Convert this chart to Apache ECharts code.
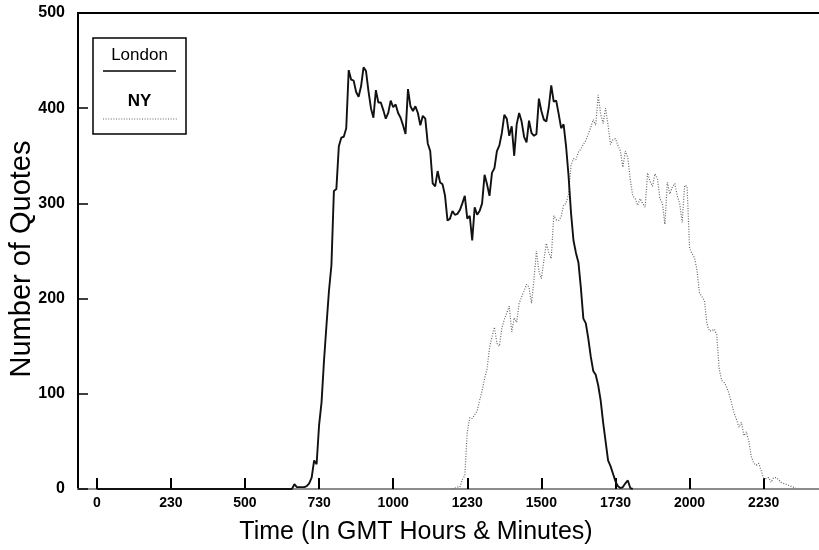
<!DOCTYPE html>
<html>
<head>
<meta charset="utf-8">
<script src="https://cdn.jsdelivr.net/npm/echarts@6/dist/echarts.min.js"></script>
<style>
  html, body { margin: 0; padding: 0; background: #fff; }
  #chart { width: 819px; height: 550px; }
</style>
</head>
<body>
<div id="chart"></div>
<script>
// Quote counts per 5-minute interval, time in minutes after midnight GMT.
const STEP_MINUTES = 5;

// London: quiet overnight, then the trading day from 06:25.
const londonOvernight = [[0, 0]];
const londonStartMinute = 385;
const londonQuotes = [
  0, 0, 0, 5, 2, 2, 2, 2, 3, 6, 12, 30, 26, 67, 91, 135, 172, 208, 235, 313,
  315, 360, 369, 370, 379, 440, 430, 429, 417, 412, 423, 443, 439, 418, 400, 390,
  419, 406, 406, 398, 389, 395, 408, 401, 404, 395, 390, 382, 373, 420, 402, 397,
  402, 395, 382, 392, 389, 363, 355, 321, 318, 334, 322, 320, 308, 282, 284, 292,
  288, 289, 293, 300, 308, 284, 287, 261, 296, 288, 292, 300, 330, 320, 308, 332,
  337, 355, 361, 374, 393, 389, 371, 381, 350, 383, 395, 386, 370, 364, 387, 374,
  371, 373, 410, 397, 388, 386, 401, 424, 407, 408, 394, 379, 383, 360, 329, 290,
  261, 248, 238, 211, 179, 174, 158, 139, 124, 120, 109, 93, 70, 50, 30, 24,
  16, 8, 3, 1, 2, 6, 9, 1, 0
];

// New York: from 12:00 until late evening.
const nyStartMinute = 720;
const nyQuotes = [
  0, 1, 2, 2, 10, 14, 60, 75, 74, 78, 82, 93, 103, 116, 126, 148, 160, 170, 153, 150,
  169, 178, 185, 192, 165, 180, 175, 195, 202, 208, 215, 212, 195, 220, 250, 229,
  221, 240, 258, 248, 242, 287, 283, 282, 286, 298, 300, 310, 340, 347, 346, 354,
  357, 362, 366, 373, 380, 388, 382, 414, 394, 384, 400, 382, 362, 367, 368, 361,
  355, 338, 355, 348, 325, 308, 305, 298, 305, 300, 296, 332, 323, 318, 331, 326,
  305, 300, 278, 322, 310, 317, 321, 308, 300, 280, 319, 318, 253, 247, 243, 230,
  206, 202, 198, 174, 166, 166, 168, 162, 126, 114, 112, 107, 100, 90, 80, 73,
  65, 70, 56, 60, 50, 34, 27, 25, 27, 19, 11, 11, 12, 7, 12, 12, 10, 7, 6, 5,
  4, 3, 2, 1
];

// Axis ticks: positions in minutes and their HHMM-style labels.
const xTickMinutes = [0, 150, 300, 450, 600, 750, 900, 1050, 1200, 1350];
const xTickLabels = ['0', '230', '500', '730', '1000', '1230', '1500', '1730', '2000', '2230'];
const yTickValues = [0, 100, 200, 300, 400, 500];

const seriesNames = ['London', 'NY'];
const xTitle = 'Time (In GMT Hours & Minutes)';
const yTitle = 'Number of Quotes';

function toPairs(start, values) {
  return values.map((v, i) => [start + i * STEP_MINUTES, v]);
}

const londonData = londonOvernight.concat(toPairs(londonStartMinute, londonQuotes));
const nyData = toPairs(nyStartMinute, nyQuotes);

const FONT = '"Liberation Sans", Arial, Helvetica, sans-serif';
const X_MIN = -38, X_MAX = 1462;

const chart = echarts.init(document.getElementById('chart'), null, { renderer: 'canvas' });

chart.setOption({
  animation: false,
  backgroundColor: '#fff',
  grid: { left: 78, right: 0, top: 13, bottom: 61, containLabel: false },
  xAxis: [
    {
      type: 'value',
      min: X_MIN,
      max: X_MAX,
      axisLine: { show: true, onZero: false, lineStyle: { color: '#8c8c8c', width: 2 } },
      axisTick: {
        show: true, inside: true, length: 11, customValues: xTickMinutes,
        lineStyle: { color: '#000', width: 2 }
      },
      axisLabel: {
        show: true, customValues: xTickMinutes, margin: 7,
        formatter: v => xTickLabels[xTickMinutes.indexOf(v)] || '',
        color: '#000', fontFamily: FONT, fontSize: 14, fontWeight: 'bold'
      },
      splitLine: { show: false }
    },
    {
      type: 'value',
      position: 'top',
      min: X_MIN,
      max: X_MAX,
      axisLine: { show: true, onZero: false, lineStyle: { color: '#000', width: 2 } },
      axisTick: { show: false },
      axisLabel: { show: false },
      splitLine: { show: false }
    }
  ],
  yAxis: {
    type: 'value',
    min: 0,
    max: 500,
    interval: 100,
    axisLine: { show: true, onZero: false, lineStyle: { color: '#000', width: 2 } },
    axisTick: { show: true, inside: true, length: 10, lineStyle: { color: '#000', width: 1.5 } },
    axisLabel: {
      margin: 13, color: '#000', fontFamily: FONT, fontSize: 16, fontWeight: 'bold',
      formatter: v => (yTickValues.indexOf(v) >= 0 ? String(v) : '')
    },
    splitLine: { show: false }
  },
  series: [
    {
      name: seriesNames[1],
      type: 'line',
      data: nyData,
      showSymbol: false,
      z: 2,
      lineStyle: { color: '#666', width: 1.2, type: [1, 1.6] }
    },
    {
      name: seriesNames[0],
      type: 'line',
      data: londonData,
      showSymbol: false,
      z: 3,
      lineStyle: { color: '#111', width: 1.9 }
    }
  ],
  graphic: [
    // legend box
    { type: 'rect', shape: { x: 93, y: 38, width: 93, height: 96 },
      style: { fill: '#fff', stroke: '#000', lineWidth: 1.5 }, z: 10 },
    { type: 'text', x: 139.5, y: 55, z: 11,
      style: { text: seriesNames[0], fill: '#000', font: '17px ' + FONT, align: 'center', verticalAlign: 'middle' } },
    { type: 'line', shape: { x1: 103, y1: 71, x2: 176, y2: 71 }, z: 11,
      style: { stroke: '#000', lineWidth: 1.6 } },
    { type: 'text', x: 139.5, y: 101, z: 11,
      style: { text: seriesNames[1], fill: '#000', font: 'bold 17px ' + FONT, align: 'center', verticalAlign: 'middle' } },
    { type: 'line', shape: { x1: 103, y1: 119, x2: 177, y2: 119 }, z: 11,
      style: { stroke: '#666', lineWidth: 1.2, lineDash: [1, 1.6] } },
    // axis titles
    { type: 'text', x: 416, y: 532, z: 11,
      style: { text: xTitle, fill: '#000', font: '25px ' + FONT, align: 'center', verticalAlign: 'middle' } },
    { type: 'text', x: 22, y: 259, rotation: Math.PI / 2, z: 11,
      style: { text: yTitle, fill: '#000', font: '29px ' + FONT, align: 'center', verticalAlign: 'middle' } }
  ]
});
</script>
</body>
</html>
